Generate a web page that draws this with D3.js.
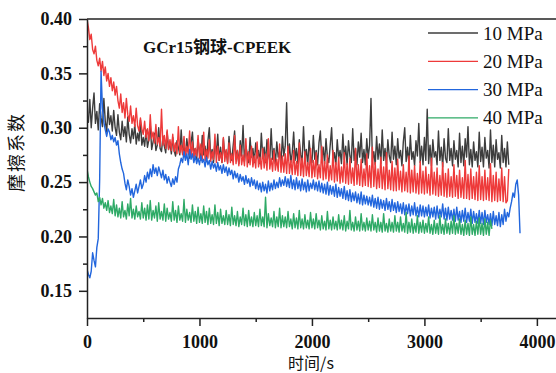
<!DOCTYPE html>
<html>
<head>
<meta charset="utf-8">
<script src="https://cdn.jsdelivr.net/npm/d3@7"></script>
<style>
  html, body { margin: 0; padding: 0; background: #fff; }
  svg { display: block; }
</style>
</head>
<body>
<svg id="chart" width="556" height="373"></svg>
<script>
// Sampling times (s), shared by all four runs (20 samples per row)
const times = [
  0,12.5,25,37.5,50,62.5,75,87.5,100,112.5,125,137.5,150,162.5,175,187.5,200,212.5,225,237.5,
  250,262.5,275,287.5,300,312.5,325,337.5,350,362.5,375,387.5,400,412.5,425,437.5,450,462.5,475,487.5,
  500,512.5,525,537.5,550,562.5,575,587.5,600,612.5,625,637.5,650,662.5,675,687.5,700,712.5,725,737.5,
  750,762.5,775,787.5,800,812.5,825,837.5,850,862.5,875,887.5,900,912.5,925,937.5,950,962.5,975,987.5,
  1000,1012.5,1025,1037.5,1050,1062.5,1075,1087.5,1100,1112.5,1125,1137.5,1150,1162.5,1175,1187.5,1200,1212.5,1225,1237.5,
  1250,1262.5,1275,1287.5,1300,1312.5,1325,1337.5,1350,1362.5,1375,1387.5,1400,1412.5,1425,1437.5,1450,1462.5,1475,1487.5,
  1500,1512.5,1525,1537.5,1550,1562.5,1575,1587.5,1600,1612.5,1625,1637.5,1650,1662.5,1675,1687.5,1700,1712.5,1725,1737.5,
  1750,1762.5,1775,1787.5,1800,1812.5,1825,1837.5,1850,1862.5,1875,1887.5,1900,1912.5,1925,1937.5,1950,1962.5,1975,1987.5,
  2000,2012.5,2025,2037.5,2050,2062.5,2075,2087.5,2100,2112.5,2125,2137.5,2150,2162.5,2175,2187.5,2200,2212.5,2225,2237.5,
  2250,2262.5,2275,2287.5,2300,2312.5,2325,2337.5,2350,2362.5,2375,2387.5,2400,2412.5,2425,2437.5,2450,2462.5,2475,2487.5,
  2500,2512.5,2525,2537.5,2550,2562.5,2575,2587.5,2600,2612.5,2625,2637.5,2650,2662.5,2675,2687.5,2700,2712.5,2725,2737.5,
  2750,2762.5,2775,2787.5,2800,2812.5,2825,2837.5,2850,2862.5,2875,2887.5,2900,2912.5,2925,2937.5,2950,2962.5,2975,2987.5,
  3000,3012.5,3025,3037.5,3050,3062.5,3075,3087.5,3100,3112.5,3125,3137.5,3150,3162.5,3175,3187.5,3200,3212.5,3225,3237.5,
  3250,3262.5,3275,3287.5,3300,3312.5,3325,3337.5,3350,3362.5,3375,3387.5,3400,3412.5,3425,3437.5,3450,3462.5,3475,3487.5,
  3500,3512.5,3525,3537.5,3550,3562.5,3575,3587.5,3600,3612.5,3625,3637.5,3650,3662.5,3675,3687.5,3700,3712.5,3725,3737.5,
  3750,3762.5,3775,3787.5,3800,3812.5,3825,3837.5,3850
];

// Friction coefficient, 10 MPa (0 – 3750 s)
const mu10 = [
  0.312,0.305,0.326,0.300,0.318,0.332,0.304,0.315,0.298,0.322,0.309,0.301,0.327,0.306,0.296,0.319,0.303,0.311,0.297,0.316,
  0.300,0.293,0.312,0.296,0.289,0.306,0.292,0.301,0.287,0.310,0.294,0.286,0.299,0.290,0.303,0.285,0.295,0.288,0.307,0.284,
  0.291,0.283,0.298,0.282,0.289,0.303,0.280,0.287,0.295,0.279,0.284,0.300,0.281,0.278,0.292,0.283,0.277,0.296,0.280,0.286,
  0.276,0.291,0.279,0.274,0.288,0.282,0.275,0.298,0.277,0.284,0.273,0.290,0.279,0.272,0.286,0.296,0.274,0.281,0.271,0.289,
  0.278,0.270,0.293,0.275,0.283,0.269,0.288,0.300,0.272,0.280,0.268,0.287,0.276,0.294,0.270,0.282,0.268,0.290,0.274,0.279,
  0.268,0.292,0.277,0.270,0.284,0.297,0.271,0.279,0.267,0.288,0.274,0.302,0.269,0.283,0.276,0.268,0.291,0.273,0.281,0.268,
  0.286,0.272,0.279,0.267,0.295,0.274,0.282,0.268,0.289,0.276,0.270,0.299,0.271,0.281,0.267,0.287,0.273,0.278,0.268,0.292,
  0.274,0.283,0.323,0.270,0.285,0.268,0.277,0.296,0.270,0.281,0.267,0.289,0.275,0.269,0.301,0.272,0.280,0.266,0.288,0.274,
  0.268,0.293,0.271,0.279,0.266,0.286,0.297,0.270,0.282,0.267,0.290,0.273,0.268,0.284,0.300,0.269,0.277,0.266,0.289,0.272,
  0.279,0.267,0.294,0.271,0.283,0.266,0.288,0.274,0.268,0.299,0.270,0.281,0.266,0.287,0.273,0.295,0.268,0.280,0.266,0.290,
  0.272,0.284,0.327,0.269,0.278,0.266,0.292,0.271,0.285,0.267,0.298,0.270,0.281,0.266,0.289,0.274,0.268,0.296,0.271,0.283,
  0.266,0.290,0.272,0.279,0.265,0.287,0.300,0.269,0.282,0.266,0.293,0.271,0.278,0.265,0.288,0.274,0.304,0.268,0.283,0.266,
  0.291,0.270,0.317,0.267,0.284,0.265,0.289,0.273,0.278,0.266,0.297,0.270,0.282,0.264,0.290,0.272,0.268,0.299,0.270,0.281,
  0.265,0.288,0.271,0.279,0.264,0.295,0.268,0.283,0.265,0.290,0.273,0.301,0.266,0.280,0.264,0.287,0.270,0.278,0.264,0.296,
  0.269,0.282,0.264,0.291,0.272,0.279,0.263,0.298,0.268,0.284,0.264,0.289,0.271,0.277,0.263,0.293,0.268,0.281,0.264,0.287,
  0.266
];

// Friction coefficient, 20 MPa (0 – 3750 s)
const mu20 = [
  0.400,0.392,0.381,0.386,0.372,0.368,0.375,0.362,0.357,0.364,0.352,0.361,0.348,0.356,0.343,0.350,0.338,0.346,0.334,0.342,
  0.330,0.338,0.325,0.318,0.331,0.314,0.323,0.309,0.327,0.312,0.306,0.320,0.304,0.311,0.301,0.318,0.302,0.297,0.309,0.299,
  0.294,0.306,0.291,0.299,0.288,0.312,0.290,0.296,0.286,0.303,0.285,0.291,0.283,0.317,0.284,0.293,0.281,0.298,0.280,0.289,
  0.279,0.294,0.278,0.286,0.276,0.301,0.277,0.284,0.275,0.292,0.274,0.283,0.276,0.297,0.273,0.287,0.272,0.281,0.274,0.293,
  0.272,0.285,0.271,0.296,0.270,0.280,0.272,0.289,0.269,0.278,0.271,0.294,0.268,0.283,0.270,0.277,0.268,0.291,0.269,0.280,
  0.267,0.286,0.268,0.276,0.266,0.293,0.267,0.279,0.265,0.284,0.266,0.275,0.265,0.290,0.264,0.278,0.266,0.283,0.264,0.274,
  0.263,0.287,0.264,0.273,0.262,0.281,0.263,0.276,0.261,0.290,0.262,0.272,0.260,0.279,0.261,0.271,0.260,0.285,0.259,0.274,
  0.259,0.276,0.258,0.283,0.258,0.270,0.257,0.279,0.257,0.269,0.256,0.286,0.256,0.272,0.255,0.278,0.256,0.268,0.255,0.281,
  0.254,0.270,0.255,0.277,0.253,0.266,0.254,0.283,0.252,0.269,0.253,0.275,0.251,0.265,0.252,0.279,0.250,0.268,0.251,0.273,
  0.249,0.264,0.250,0.277,0.249,0.267,0.248,0.272,0.249,0.263,0.247,0.281,0.248,0.266,0.247,0.271,0.246,0.262,0.247,0.276,
  0.246,0.265,0.245,0.282,0.246,0.268,0.244,0.262,0.245,0.273,0.244,0.264,0.243,0.277,0.244,0.261,0.243,0.269,0.242,0.263,
  0.242,0.271,0.243,0.260,0.241,0.266,0.242,0.259,0.241,0.274,0.240,0.261,0.241,0.265,0.240,0.258,0.239,0.269,0.240,0.260,
  0.239,0.264,0.240,0.257,0.238,0.272,0.239,0.259,0.238,0.263,0.237,0.256,0.238,0.268,0.237,0.258,0.236,0.262,0.237,0.255,
  0.236,0.266,0.237,0.256,0.235,0.261,0.236,0.254,0.235,0.270,0.235,0.257,0.234,0.262,0.235,0.255,0.234,0.259,0.233,0.265,
  0.234,0.255,0.233,0.261,0.234,0.254,0.233,0.267,0.232,0.256,0.233,0.259,0.232,0.253,0.233,0.263,0.232,0.255,0.231,0.233,
  0.262
];

// Friction coefficient, 30 MPa (0 – 3850 s)
const mu30 = [
  0.170,0.165,0.162,0.168,0.185,0.178,0.172,0.190,0.198,0.252,0.352,0.318,0.305,0.298,0.292,0.299,0.296,0.289,0.293,0.287,
  0.291,0.284,0.288,0.276,0.268,0.262,0.258,0.249,0.243,0.252,0.246,0.238,0.244,0.236,0.242,0.248,0.240,0.246,0.252,0.244,
  0.248,0.256,0.250,0.259,0.253,0.262,0.255,0.266,0.258,0.263,0.256,0.264,0.259,0.254,0.261,0.252,0.257,0.249,0.255,0.250,
  0.246,0.253,0.248,0.255,0.250,0.262,0.266,0.272,0.268,0.278,0.270,0.276,0.266,0.280,0.271,0.276,0.268,0.274,0.267,0.272,
  0.266,0.274,0.268,0.271,0.264,0.273,0.266,0.270,0.262,0.269,0.263,0.267,0.260,0.268,0.261,0.265,0.258,0.266,0.259,0.264,
  0.256,0.263,0.257,0.261,0.253,0.260,0.254,0.258,0.250,0.257,0.251,0.255,0.248,0.256,0.249,0.253,0.246,0.254,0.247,0.252,
  0.244,0.251,0.243,0.249,0.241,0.250,0.242,0.248,0.240,0.251,0.242,0.249,0.243,0.252,0.244,0.250,0.245,0.254,0.246,0.252,
  0.247,0.255,0.246,0.253,0.245,0.256,0.244,0.252,0.243,0.254,0.244,0.251,0.242,0.253,0.243,0.250,0.241,0.252,0.242,0.249,
  0.244,0.252,0.243,0.250,0.242,0.251,0.241,0.249,0.240,0.248,0.239,0.250,0.238,0.247,0.239,0.246,0.237,0.248,0.236,0.245,
  0.237,0.244,0.235,0.246,0.234,0.242,0.233,0.243,0.232,0.240,0.233,0.241,0.231,0.239,0.230,0.241,0.229,0.238,0.230,0.237,
  0.229,0.236,0.228,0.238,0.227,0.235,0.226,0.236,0.225,0.234,0.226,0.233,0.224,0.235,0.225,0.232,0.223,0.234,0.224,0.231,
  0.222,0.232,0.223,0.230,0.221,0.231,0.220,0.229,0.221,0.230,0.219,0.228,0.220,0.231,0.219,0.227,0.218,0.229,0.219,0.228,
  0.218,0.227,0.219,0.229,0.217,0.226,0.218,0.227,0.216,0.228,0.217,0.225,0.218,0.230,0.216,0.226,0.215,0.227,0.216,0.224,
  0.215,0.225,0.214,0.227,0.215,0.223,0.213,0.224,0.214,0.226,0.213,0.222,0.214,0.225,0.212,0.223,0.213,0.221,0.212,0.224,
  0.212,0.222,0.211,0.224,0.213,0.220,0.211,0.221,0.210,0.223,0.211,0.219,0.210,0.222,0.209,0.220,0.211,0.225,0.214,0.222,
  0.218,0.226,0.232,0.240,0.236,0.248,0.252,0.238,0.203
];

// Friction coefficient, 40 MPa (0 – 3600 s)
const mu40 = [
  0.262,0.255,0.250,0.246,0.244,0.241,0.238,0.240,0.232,0.236,0.229,0.235,0.226,0.231,0.224,0.233,0.222,0.228,0.221,0.234,
  0.219,0.229,0.218,0.226,0.217,0.232,0.218,0.224,0.216,0.230,0.219,0.235,0.217,0.225,0.216,0.228,0.218,0.223,0.216,0.231,
  0.217,0.226,0.215,0.229,0.216,0.233,0.215,0.224,0.217,0.228,0.214,0.231,0.216,0.223,0.215,0.230,0.214,0.226,0.216,0.222,
  0.214,0.232,0.215,0.224,0.213,0.228,0.215,0.221,0.214,0.234,0.213,0.225,0.215,0.222,0.213,0.229,0.214,0.223,0.212,0.227,
  0.213,0.221,0.212,0.228,0.213,0.223,0.211,0.226,0.212,0.220,0.211,0.229,0.212,0.222,0.210,0.225,0.212,0.219,0.211,0.224,
  0.211,0.220,0.210,0.227,0.211,0.219,0.210,0.223,0.209,0.218,0.211,0.226,0.210,0.220,0.209,0.224,0.210,0.218,0.209,0.222,
  0.210,0.219,0.209,0.225,0.210,0.218,0.209,0.236,0.208,0.221,0.210,0.217,0.209,0.223,0.208,0.218,0.209,0.226,0.208,0.219,
  0.209,0.218,0.208,0.223,0.209,0.216,0.207,0.221,0.208,0.217,0.207,0.224,0.208,0.216,0.207,0.220,0.208,0.215,0.207,0.222,
  0.208,0.216,0.207,0.221,0.208,0.215,0.206,0.219,0.207,0.214,0.206,0.223,0.207,0.215,0.206,0.218,0.207,0.214,0.206,0.220,
  0.207,0.215,0.206,0.219,0.205,0.214,0.207,0.224,0.206,0.213,0.205,0.218,0.206,0.214,0.205,0.221,0.206,0.213,0.205,0.217,
  0.206,0.214,0.205,0.220,0.206,0.213,0.204,0.217,0.205,0.213,0.204,0.221,0.205,0.212,0.204,0.216,0.205,0.213,0.204,0.219,
  0.205,0.213,0.204,0.218,0.205,0.212,0.204,0.222,0.203,0.213,0.204,0.216,0.203,0.212,0.204,0.219,0.203,0.213,0.204,0.215,
  0.203,0.212,0.204,0.218,0.203,0.211,0.202,0.215,0.203,0.212,0.202,0.219,0.203,0.211,0.202,0.216,0.203,0.212,0.202,0.214,
  0.203,0.219,0.202,0.212,0.203,0.216,0.202,0.211,0.201,0.215,0.202,0.212,0.201,0.218,0.202,0.211,0.201,0.214,0.202,0.217,
  0.202,0.212,0.201,0.216,0.202,0.213,0.201,0.215,0.207
];

const seriesNames = ["10 MPa", "20 MPa", "30 MPa", "40 MPa"];
const seriesValues = [mu10, mu20, mu30, mu40];
const seriesColors = ["#3d3d3d", "#ee3a3a", "#2266dd", "#2eaa66"];

const yMajorTicks = [0.15, 0.20, 0.25, 0.30, 0.35, 0.40];
const yMinorTicks = [0.175, 0.225, 0.275, 0.325, 0.375];
const xMajorTicks = [0, 1000, 2000, 3000, 4000];
const xMinorTicks = [500, 1500, 2500, 3500];

const chartTitle = "GCr15钢球-CPEEK";
const xTitle = "时间/s";
const yTitle = "摩擦系数";

const svg = d3.select("#chart");
const plotLeft = 87, plotRight = 556, plotTop = 19, plotBottom = 318;

const x = d3.scaleLinear().domain([0, 4170]).range([plotLeft, plotRight]);
const y = d3.scaleLinear().domain([0.125, 0.40]).range([plotBottom, plotTop]);

const numFont = "'Liberation Serif', 'Times New Roman', serif";
const cjkFont = "'Liberation Serif', 'Noto Sans CJK SC', serif";
const axisColor = "#222";

// data lines, clipped to the plotting frame
svg.append("clipPath").attr("id", "plotClip")
  .append("rect").attr("x", plotLeft).attr("y", plotTop - 1)
  .attr("width", plotRight - plotLeft).attr("height", plotBottom - plotTop + 1);

const line = d3.line()
  .x((d, i) => x(times[i]))
  .y(d => y(d));

const plot = svg.append("g").attr("clip-path", "url(#plotClip)");
seriesValues.forEach((vals, k) => {
  plot.append("path")
    .datum(vals)
    .attr("fill", "none")
    .attr("stroke", seriesColors[k])
    .attr("stroke-width", 1.4)
    .attr("stroke-linejoin", "round")
    .attr("d", line);
});

// top frame line
svg.append("line")
  .attr("x1", plotLeft).attr("x2", plotRight)
  .attr("y1", plotTop).attr("y2", plotTop)
  .attr("stroke", axisColor).attr("stroke-width", 1.5);

// y axis
svg.append("g").attr("transform", `translate(${plotLeft},0)`)
  .call(d3.axisLeft(y).tickValues(yMajorTicks).tickFormat(d3.format(".2f"))
    .tickSize(8).tickSizeOuter(0).tickPadding(7));
svg.append("g").attr("transform", `translate(${plotLeft},0)`)
  .call(d3.axisLeft(y).tickValues(yMinorTicks).tickFormat("").tickSize(4).tickSizeOuter(0))
  .call(g => g.select(".domain").remove());

// x axis
svg.append("g").attr("transform", `translate(0,${plotBottom})`)
  .call(d3.axisBottom(x).tickValues(xMajorTicks).tickFormat(d3.format("d"))
    .tickSize(8).tickSizeOuter(0).tickPadding(9));
svg.append("g").attr("transform", `translate(0,${plotBottom})`)
  .call(d3.axisBottom(x).tickValues(xMinorTicks).tickFormat("").tickSize(4).tickSizeOuter(0))
  .call(g => g.select(".domain").remove());

svg.selectAll(".domain, .tick line")
  .attr("stroke", axisColor).attr("stroke-width", 1.5);
svg.selectAll(".tick text")
  .attr("fill", "#111")
  .style("font-family", numFont)
  .style("font-weight", "bold")
  .style("font-size", "18px");

// chart title
svg.append("text")
  .attr("x", 143).attr("y", 53)
  .attr("fill", "#111")
  .style("font-family", cjkFont)
  .style("font-weight", "bold")
  .style("font-size", "17px")
  .text(chartTitle);

// axis titles
svg.append("text")
  .attr("x", 311).attr("y", 369)
  .attr("text-anchor", "middle")
  .attr("fill", "#111")
  .style("font-family", "'Noto Sans CJK SC', sans-serif")
  .style("font-size", "16px")
  .text(xTitle);

svg.append("text")
  .attr("transform", "translate(23,152) rotate(-90)")
  .attr("text-anchor", "middle")
  .attr("fill", "#111")
  .style("font-family", "'Noto Sans CJK SC', sans-serif")
  .style("font-size", "18px")
  .style("letter-spacing", "2px")
  .text(yTitle);

// legend
const legend = svg.append("g");
seriesNames.forEach((name, k) => {
  const ly = 33 + k * 28.3;
  legend.append("line")
    .attr("x1", 428).attr("x2", 478)
    .attr("y1", ly).attr("y2", ly)
    .attr("stroke", seriesColors[k]).attr("stroke-width", 1.3);
  legend.append("text")
    .attr("x", 483).attr("y", ly + 6.5)
    .attr("fill", "#111")
    .style("font-family", numFont)
    .style("font-size", "19px")
    .text(name);
});
</script>
</body>
</html>
